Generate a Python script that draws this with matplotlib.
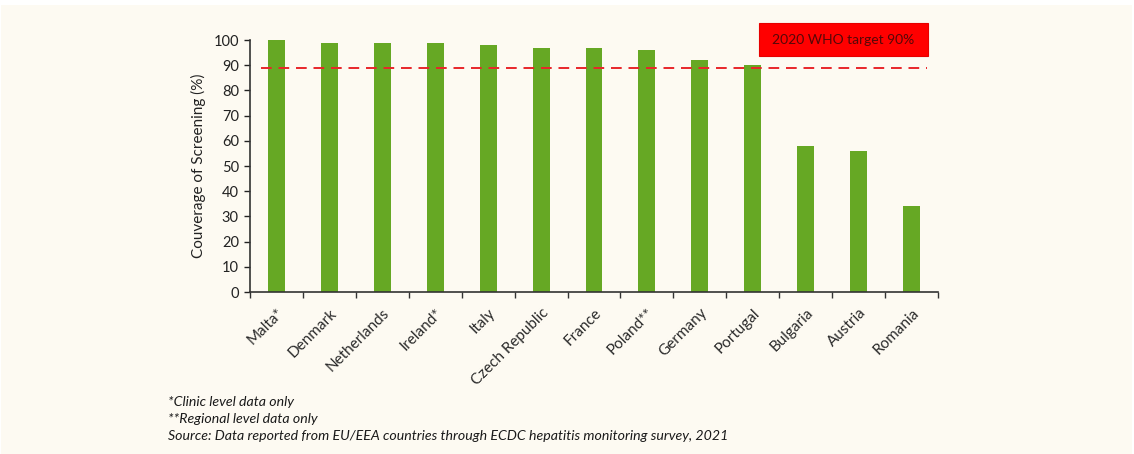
import matplotlib
matplotlib.use("Agg")
import matplotlib.pyplot as plt
from matplotlib.patches import Rectangle
import numpy as np

countries = ["Malta*", "Denmark", "Netherlands", "Ireland*", "Italy", "Czech Republic",
             "France", "Poland**", "Germany", "Portugal", "Bulgaria", "Austria", "Romania"]
coverage = [100, 99, 99, 99, 98, 97, 97, 96, 92, 90, 58, 56, 34]
target_value = 89
target_label = "2020 WHO target 90%"
y_ticks = list(range(0, 101, 10))
footnotes = ["*Clinic level data only",
             "**Regional level data only",
             "Source: Data reported from EU/EEA countries through ECDC hepatitis monitoring survey, 2021"]

plt.rcParams["font.family"] = ["Lato", "DejaVu Sans"]

W, H = 1134, 454
fig = plt.figure(figsize=(W / 100, H / 100), dpi=100)
fig.patch.set_facecolor("white")
bg = "#FDFAF2"
fig.patches.append(Rectangle((1 / W, 0), 1 - 3 / W, 1 - 5 / H, transform=fig.transFigure,
                             facecolor=bg, edgecolor="none", zorder=-10))

ax = fig.add_axes([250 / W, 1 - 292 / H, (938 - 250) / W, (292 - 40) / H])
ax.set_facecolor(bg)
x = np.arange(len(countries))
ax.bar(x, coverage, width=0.32, color="#66A824", zorder=2)
ax.set_xlim(-0.5, len(countries) - 0.5)
ax.set_ylim(0, 100)
ax.set_yticks(y_ticks)
ax.tick_params(axis="y", labelsize=10.5, colors="#222222", length=4, width=1, direction="out", pad=4)
ax.set_xticks(x)
ax.set_xticklabels(countries, rotation=45, ha="right", rotation_mode="anchor",
                   fontsize=11, color="#2A2A2A")
ax.tick_params(axis="x", which="major", length=0, pad=10)
ax.set_xticks(np.arange(-0.5, len(countries) + 0.5, 1), minor=True)
ax.tick_params(axis="x", which="minor", length=4, width=1, direction="out", color="#333333")
for s in ["top", "right"]:
    ax.spines[s].set_visible(False)
for s in ["left", "bottom"]:
    ax.spines[s].set_color("#333333")
    ax.spines[s].set_linewidth(1.2)
ax.set_ylabel("Couverage of Screening (%)", fontsize=11, color="#222222", labelpad=5)

ax.hlines(target_value, -0.3, 12.3, colors="#E8262A", linestyles=(0, (5.5, 3.5)), linewidth=1.4, zorder=3)

# target annotation box
fig.patches.append(Rectangle((759 / W, 1 - 56 / H), (928 - 759) / W, 33 / H,
                             transform=fig.transFigure, facecolor="#FF0000",
                             edgecolor="#E60000", linewidth=0.8, zorder=5))
fig.text((759 + 928) / 2 / W, 1 - 40 / H, target_label, ha="center", va="center",
         fontsize=10, color="#550808", zorder=6)

for i, line in enumerate(footnotes):
    fig.text(168 / W, 1 - (402 + i * 17) / H, line, ha="left", va="center",
             fontsize=10.2, fontstyle="italic", color="#1A1A1A")

fig.savefig("out.png", dpi=100, facecolor=fig.get_facecolor())
